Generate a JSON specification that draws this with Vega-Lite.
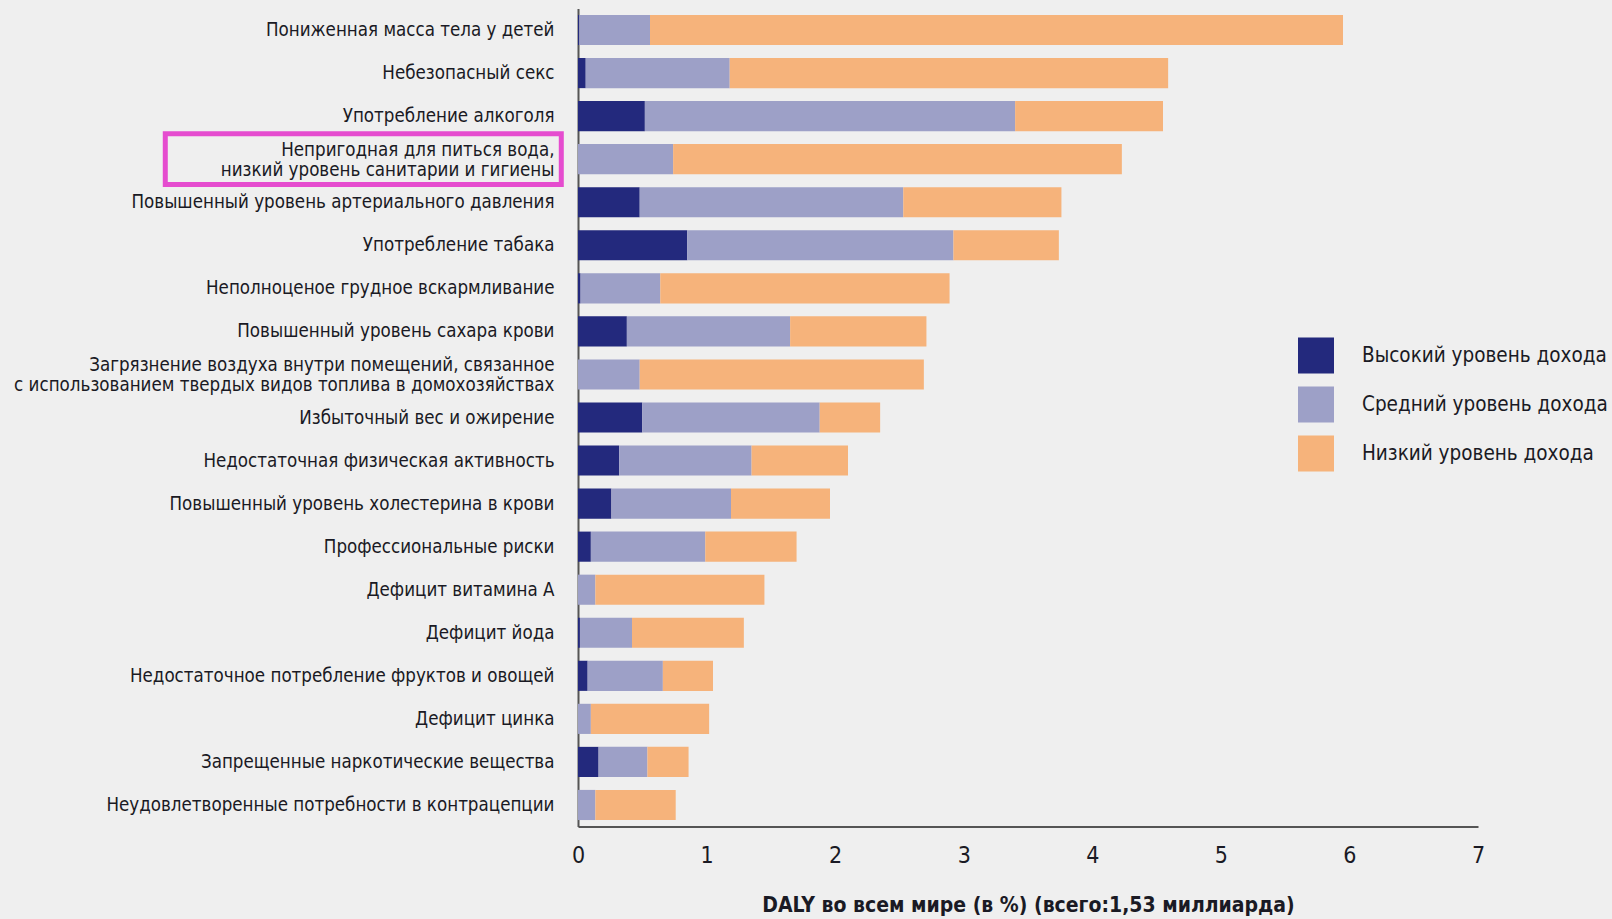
{
  "$schema": "https://vega.github.io/schema/vega-lite/v6.json",
  "autosize": {"type": "none"},
  "padding": {"left": 578, "top": 8.5, "right": 134, "bottom": 92.5},
  "width": 900,
  "height": 818,
  "background": "#efefef",
  "config": {
    "view": {"stroke": null},
    "font": "DejaVu Sans Condensed, sans-serif"
  },
  "datasets": {
    "risks": [
      {"risk": "Пониженная масса тела у детей", "group": "Высокий уровень дохода", "rank": 1, "value": 0.01},
      {"risk": "Пониженная масса тела у детей", "group": "Средний уровень дохода", "rank": 2, "value": 0.55},
      {"risk": "Пониженная масса тела у детей", "group": "Низкий уровень дохода", "rank": 3, "value": 5.39},
      {"risk": "Небезопасный секс", "group": "Высокий уровень дохода", "rank": 1, "value": 0.06},
      {"risk": "Небезопасный секс", "group": "Средний уровень дохода", "rank": 2, "value": 1.12},
      {"risk": "Небезопасный секс", "group": "Низкий уровень дохода", "rank": 3, "value": 3.41},
      {"risk": "Употребление алкоголя", "group": "Высокий уровень дохода", "rank": 1, "value": 0.52},
      {"risk": "Употребление алкоголя", "group": "Средний уровень дохода", "rank": 2, "value": 2.88},
      {"risk": "Употребление алкоголя", "group": "Низкий уровень дохода", "rank": 3, "value": 1.15},
      {"risk": "Непригодная для питься вода,|низкий уровень санитарии и гигиены", "group": "Высокий уровень дохода", "rank": 1, "value": 0.0},
      {"risk": "Непригодная для питься вода,|низкий уровень санитарии и гигиены", "group": "Средний уровень дохода", "rank": 2, "value": 0.74},
      {"risk": "Непригодная для питься вода,|низкий уровень санитарии и гигиены", "group": "Низкий уровень дохода", "rank": 3, "value": 3.49},
      {"risk": "Повышенный уровень артериального давления", "group": "Высокий уровень дохода", "rank": 1, "value": 0.48},
      {"risk": "Повышенный уровень артериального давления", "group": "Средний уровень дохода", "rank": 2, "value": 2.05},
      {"risk": "Повышенный уровень артериального давления", "group": "Низкий уровень дохода", "rank": 3, "value": 1.23},
      {"risk": "Употребление табака", "group": "Высокий уровень дохода", "rank": 1, "value": 0.85},
      {"risk": "Употребление табака", "group": "Средний уровень дохода", "rank": 2, "value": 2.07},
      {"risk": "Употребление табака", "group": "Низкий уровень дохода", "rank": 3, "value": 0.82},
      {"risk": "Неполноценое грудное вскармливание", "group": "Высокий уровень дохода", "rank": 1, "value": 0.02},
      {"risk": "Неполноценое грудное вскармливание", "group": "Средний уровень дохода", "rank": 2, "value": 0.62},
      {"risk": "Неполноценое грудное вскармливание", "group": "Низкий уровень дохода", "rank": 3, "value": 2.25},
      {"risk": "Повышенный уровень сахара крови", "group": "Высокий уровень дохода", "rank": 1, "value": 0.38},
      {"risk": "Повышенный уровень сахара крови", "group": "Средний уровень дохода", "rank": 2, "value": 1.27},
      {"risk": "Повышенный уровень сахара крови", "group": "Низкий уровень дохода", "rank": 3, "value": 1.06},
      {"risk": "Загрязнение воздуха внутри помещений, связанное|с использованием твердых видов топлива в домохозяйствах", "group": "Высокий уровень дохода", "rank": 1, "value": 0.0},
      {"risk": "Загрязнение воздуха внутри помещений, связанное|с использованием твердых видов топлива в домохозяйствах", "group": "Средний уровень дохода", "rank": 2, "value": 0.48},
      {"risk": "Загрязнение воздуха внутри помещений, связанное|с использованием твердых видов топлива в домохозяйствах", "group": "Низкий уровень дохода", "rank": 3, "value": 2.21},
      {"risk": "Избыточный вес и ожирение", "group": "Высокий уровень дохода", "rank": 1, "value": 0.50},
      {"risk": "Избыточный вес и ожирение", "group": "Средний уровень дохода", "rank": 2, "value": 1.38},
      {"risk": "Избыточный вес и ожирение", "group": "Низкий уровень дохода", "rank": 3, "value": 0.47},
      {"risk": "Недостаточная физическая активность", "group": "Высокий уровень дохода", "rank": 1, "value": 0.32},
      {"risk": "Недостаточная физическая активность", "group": "Средний уровень дохода", "rank": 2, "value": 1.03},
      {"risk": "Недостаточная физическая активность", "group": "Низкий уровень дохода", "rank": 3, "value": 0.75},
      {"risk": "Повышенный уровень холестерина в крови", "group": "Высокий уровень дохода", "rank": 1, "value": 0.26},
      {"risk": "Повышенный уровень холестерина в крови", "group": "Средний уровень дохода", "rank": 2, "value": 0.93},
      {"risk": "Повышенный уровень холестерина в крови", "group": "Низкий уровень дохода", "rank": 3, "value": 0.77},
      {"risk": "Профессиональные риски", "group": "Высокий уровень дохода", "rank": 1, "value": 0.10},
      {"risk": "Профессиональные риски", "group": "Средний уровень дохода", "rank": 2, "value": 0.89},
      {"risk": "Профессиональные риски", "group": "Низкий уровень дохода", "rank": 3, "value": 0.71},
      {"risk": "Дефицит витамина А", "group": "Высокий уровень дохода", "rank": 1, "value": 0.0},
      {"risk": "Дефицит витамина А", "group": "Средний уровень дохода", "rank": 2, "value": 0.135},
      {"risk": "Дефицит витамина А", "group": "Низкий уровень дохода", "rank": 3, "value": 1.315},
      {"risk": "Дефицит йода", "group": "Высокий уровень дохода", "rank": 1, "value": 0.015},
      {"risk": "Дефицит йода", "group": "Средний уровень дохода", "rank": 2, "value": 0.405},
      {"risk": "Дефицит йода", "group": "Низкий уровень дохода", "rank": 3, "value": 0.87},
      {"risk": "Недостаточное потребление фруктов и овощей", "group": "Высокий уровень дохода", "rank": 1, "value": 0.075},
      {"risk": "Недостаточное потребление фруктов и овощей", "group": "Средний уровень дохода", "rank": 2, "value": 0.585},
      {"risk": "Недостаточное потребление фруктов и овощей", "group": "Низкий уровень дохода", "rank": 3, "value": 0.39},
      {"risk": "Дефицит цинка", "group": "Высокий уровень дохода", "rank": 1, "value": 0.0},
      {"risk": "Дефицит цинка", "group": "Средний уровень дохода", "rank": 2, "value": 0.10},
      {"risk": "Дефицит цинка", "group": "Низкий уровень дохода", "rank": 3, "value": 0.92},
      {"risk": "Запрещенные наркотические вещества", "group": "Высокий уровень дохода", "rank": 1, "value": 0.16},
      {"risk": "Запрещенные наркотические вещества", "group": "Средний уровень дохода", "rank": 2, "value": 0.38},
      {"risk": "Запрещенные наркотические вещества", "group": "Низкий уровень дохода", "rank": 3, "value": 0.32},
      {"risk": "Неудовлетворенные потребности в контрацепции", "group": "Высокий уровень дохода", "rank": 1, "value": 0.0},
      {"risk": "Неудовлетворенные потребности в контрацепции", "group": "Средний уровень дохода", "rank": 2, "value": 0.135},
      {"risk": "Неудовлетворенные потребности в контрацепции", "group": "Низкий уровень дохода", "rank": 3, "value": 0.625}
    ],
    "highlight": [
      {"risk": "Непригодная для питься вода,|низкий уровень санитарии и гигиены", "start": -3.21, "end": -0.13}
    ]
  },
  "layer": [
    {
      "data": {"name": "risks"},
      "mark": {"type": "bar", "stroke": null},
      "encoding": {
        "y": {
          "field": "risk",
          "type": "nominal",
          "sort": null,
          "scale": {"paddingInner": 0.3, "paddingOuter": 0.15},
          "axis": {
            "title": null,
            "ticks": false,
            "domain": true,
            "domainColor": "#555555",
            "domainWidth": 2,
            "labelExpr": "split(datum.label, '|')",
            "labelFont": "DejaVu Sans Condensed, sans-serif",
            "labelFontSize": 18.6,
            "labelLineHeight": 19.5,
            "labelColor": "#1a1a24",
            "labelPadding": 24,
            "labelLimit": 700,
            "labelOffset": {"condition": {"test": "indexof(datum.value, '|') >= 0", "value": -9}, "value": 0}
          }
        },
        "x": {
          "field": "value",
          "type": "quantitative",
          "stack": "zero",
          "scale": {"domain": [0, 7], "nice": false},
          "axis": {
            "title": "DALY во всем мире (в %) (всего:1,53 миллиарда)",
            "values": [0, 1, 2, 3, 4, 5, 6, 7],
            "format": "d",
            "grid": false,
            "ticks": false,
            "domainColor": "#555555",
            "domainWidth": 2,
            "labelFont": "DejaVu Sans Condensed, sans-serif",
            "labelFontSize": 23,
            "labelColor": "#1a1a24",
            "labelPadding": 18,
            "labelFlush": false,
            "titleFont": "DejaVu Sans Condensed, sans-serif",
            "titleFontSize": 21,
            "titleFontWeight": "bold",
            "titleColor": "#1a1a24",
            "titlePadding": 27
          }
        },
        "order": {"field": "rank", "type": "quantitative", "sort": "ascending"},
        "color": {
          "field": "group",
          "type": "nominal",
          "scale": {
            "domain": ["Высокий уровень дохода", "Средний уровень дохода", "Низкий уровень дохода"],
            "range": ["#23297d", "#9da0c7", "#f6b37b"]
          },
          "legend": {
            "title": null,
            "orient": "none",
            "legendX": 720,
            "legendY": 329,
            "padding": 0,
            "symbolType": "square",
            "symbolSize": 1296,
            "symbolStrokeWidth": 0,
            "symbolOpacity": 1,
            "labelFont": "DejaVu Sans Condensed, sans-serif",
            "labelFontSize": 20.5,
            "labelColor": "#1a1a24",
            "labelOffset": 28,
            "labelLimit": 400,
            "rowPadding": 13
          }
        }
      }
    },
    {
      "data": {"name": "highlight"},
      "mark": {"type": "bar", "filled": false, "stroke": "#e54ccf", "strokeWidth": 5, "height": {"band": 1.68}},
      "encoding": {
        "y": {"field": "risk", "type": "nominal", "sort": null},
        "x": {"field": "start", "type": "quantitative"},
        "x2": {"field": "end"}
      }
    }
  ]
}
